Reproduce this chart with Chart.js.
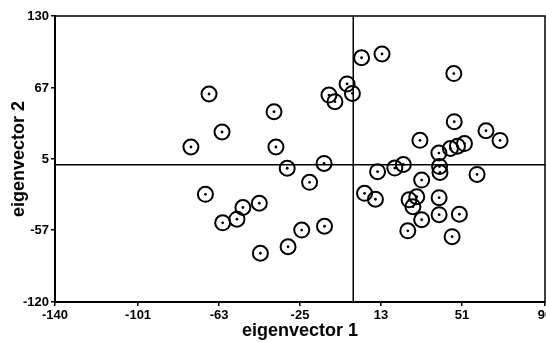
<!DOCTYPE html>
<html>
<head>
<meta charset="utf-8">
<script src="https://cdn.jsdelivr.net/npm/chart.js@4/dist/chart.umd.min.js"></script>
<style>
  html, body { margin: 0; padding: 0; background: #fff; }
  #wrap { width: 546px; height: 342px; }
</style>
</head>
<body>
<div id="wrap"><canvas id="chart" width="546" height="342"></canvas></div>
<script>
// scores on the first two eigenvectors
const eig1 = [
  -76.2, -67.7, -61.6, -37.2, -36.3, -31.0, -13.7, -11.4, -8.6, -2.9, -0.4,
  -20.5, -69.4, -61.3, -54.6, -51.8, -44.1, -43.6, -30.6, -24.2, -13.5,
  3.9, 13.5, 47.2, 47.4, 31.3, 62.3, 68.9, 40.2, 45.6, 48.9, 52.2,
  11.4, 19.5, 23.5, 40.5, 40.7, 58.1, 32.1, 5.3, 10.4, 26.2, 29.8, 28.0,
  40.3, 32.1, 40.3, 49.8, 25.6, 46.4
];
const eig2 = [
  15.5, 61.8, 28.6, 46.3, 15.5, -3.1, 1.1, 60.9, 55.1, 70.6, 62.3,
  -15.4, -25.9, -50.8, -47.6, -37.4, -33.7, -77.4, -71.7, -57.1, -53.8,
  93.5, 96.8, 79.7, 37.6, 21.3, 29.7, 21.2, 10.2, 14.2, 16.2, 18.5,
  -6.1, -2.9, 0.2, -1.6, -6.8, -8.5, -13.4, -25.0, -30.2, -30.7, -28.0, -36.7,
  -28.8, -48.1, -43.7, -43.3, -57.8, -62.9
];

const xTicks = [-140, -101, -63, -25, 13, 51, 90];
const yTicks = [-120, -57, 5, 67, 130];

const points = eig1.map((x, i) => ({ x: x, y: eig2[i] }));

// box round the plot + the two zero lines
const frame = {
  id: "frame",
  afterDatasetsDraw(chart) {
    const { ctx, chartArea: a, scales } = chart;
    ctx.save();
    ctx.strokeStyle = "#000";
    ctx.lineWidth = 1.5;
    ctx.strokeRect(a.left, a.top, a.right - a.left, a.bottom - a.top);
    const x0 = scales.x.getPixelForValue(0);
    const y0 = scales.y.getPixelForValue(0);
    ctx.beginPath();
    ctx.moveTo(x0, a.top);
    ctx.lineTo(x0, a.bottom);
    ctx.moveTo(a.left, y0);
    ctx.lineTo(a.right, y0);
    ctx.stroke();
    ctx.restore();
  }
};

const tickFont = { family: "'Liberation Sans', Arial, sans-serif", size: 13, weight: "bold" };
const titleFont = { family: "'Liberation Sans', Arial, sans-serif", size: 18, weight: "bold" };

new Chart(document.getElementById("chart"), {
  type: "scatter",
  data: {
    datasets: [
      {
        data: points,
        pointRadius: 7.5,
        pointHoverRadius: 7.5,
        pointBorderWidth: 2,
        pointBorderColor: "#000",
        pointBackgroundColor: "rgba(0,0,0,0)"
      },
      {
        data: points,
        pointRadius: 1.4,
        pointHoverRadius: 1.4,
        pointBorderWidth: 0,
        pointBackgroundColor: "#000"
      }
    ]
  },
  options: {
    responsive: false,
    animation: false,
    events: [],
    layout: { autoPadding: false, padding: { top: 16, right: 1, left: 0, bottom: 0 } },
    plugins: { legend: { display: false }, tooltip: { enabled: false } },
    scales: {
      x: {
        type: "linear",
        min: -140,
        max: 90,
        afterBuildTicks: s => { s.ticks = xTicks.map(v => ({ value: v })); },
        afterFit: s => { s.height = 40; s.paddingLeft = 0; s.paddingRight = 0; },
        ticks: { color: "#000", font: tickFont, padding: 2, maxRotation: 0, autoSkip: false },
        grid: { drawOnChartArea: false, drawTicks: true, tickLength: 4, color: "#000", lineWidth: 1.5 },
        border: { display: true, color: "#000", width: 2 },
        title: { display: true, text: "eigenvector 1", color: "#000", font: titleFont, padding: { top: 4, bottom: 0 } }
      },
      y: {
        type: "linear",
        min: -120,
        max: 130,
        afterBuildTicks: s => { s.ticks = yTicks.map(v => ({ value: v })); },
        afterFit: s => { s.width = 55; s.paddingTop = 0; s.paddingBottom = 0; },
        ticks: { color: "#000", font: tickFont, padding: 2, autoSkip: false },
        grid: { drawOnChartArea: false, drawTicks: true, tickLength: 4, color: "#000", lineWidth: 1.5 },
        border: { display: true, color: "#000", width: 2 },
        title: { display: true, text: "eigenvector 2", color: "#000", font: titleFont, padding: { top: 8, bottom: 0 } }
      }
    }
  },
  plugins: [frame]
});
</script>
</body>
</html>
